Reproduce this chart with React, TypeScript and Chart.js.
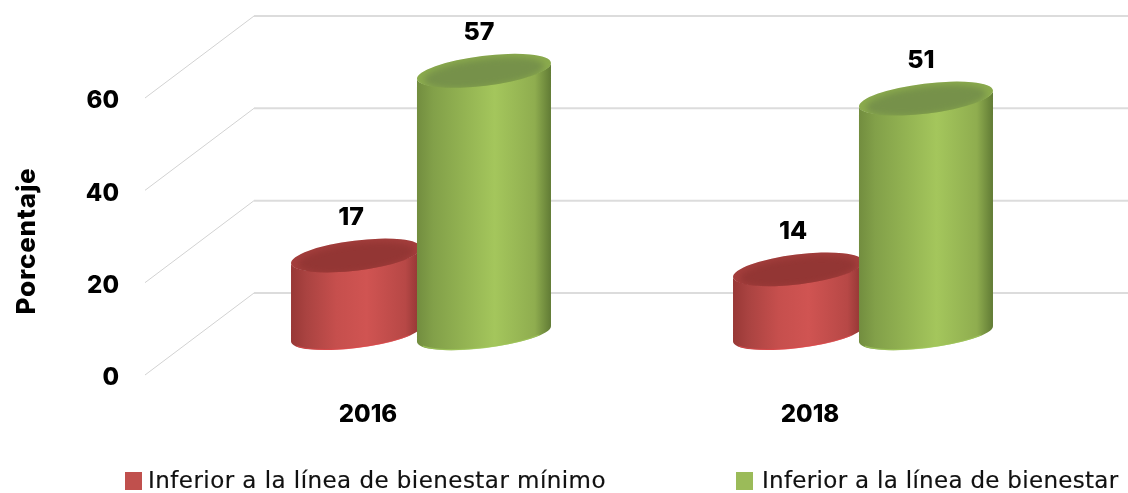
import React, { useEffect, useRef } from "react";
import { Chart, registerables } from "chart.js";

Chart.register(...registerables);

const categories = ["2016", "2018"];
const belowMinimum = [17, 14];
const belowWellbeing = [57, 51];
const seriesNames = ["Inferior a la línea de bienestar mínimo", "Inferior a la línea de bienestar"];
const axisTitle = "Porcentaje";

const FONT = 'Inter, "DejaVu Sans", sans-serif';
const LEGEND_FONT = '"DejaVu Sans", sans-serif';
const DEPTH_X = 107;
const DEPTH_Y = 82;
const SHIFT_X = 52;
const SHIFT_Y = 41;
const TILT = (-7 * Math.PI) / 180;
const MINOR = 14;

const looks = [
  {
    swatch: "#c0504d",
    extra: 1,
    stops: ["#983836", "#aa4341", "#c64f4d", "#d05452", "#b74846", "#8f3432"],
    rim: "#a43e3c",
    cap: "#933634",
    glow: "rgba(222,72,76,0.7)",
  },
  {
    swatch: "#9bbb59",
    extra: 3,
    stops: ["#728d3f", "#82a049", "#93b352", "#a4c65c", "#8fad4f", "#617b35"],
    rim: "#8bab4d",
    cap: "#76914a",
    glow: "rgba(160,200,90,0.7)",
  },
];

const scenePlugin = {
  id: "scene",
  afterLayout(chart: any) {
    // Inter sits high on a "middle" baseline: nudge the value labels onto their ticks.
    chart.scales.y.getLabelItems(chart.chartArea).forEach((item: any) => {
      item.options.translation[1] += 3;
    });
  },
  beforeDatasetsDraw(chart: any) {
    const { ctx, chartArea, scales } = chart;
    ctx.save();
    scales.y.ticks.forEach((t: any) => {
      const y = scales.y.getPixelForValue(t.value);
      ctx.strokeStyle = "#d2d2d2";
      ctx.lineWidth = 1;
      ctx.beginPath();
      ctx.moveTo(chartArea.left - 2, y);
      ctx.lineTo(chartArea.left + DEPTH_X, y - DEPTH_Y);
      ctx.stroke();
      ctx.strokeStyle = "#dcdcdc";
      ctx.lineWidth = 2;
      ctx.beginPath();
      ctx.moveTo(chartArea.left + DEPTH_X, y - DEPTH_Y);
      ctx.lineTo(chart.width, y - DEPTH_Y);
      ctx.stroke();
    });
    ctx.restore();

    ctx.save();
    ctx.translate(27, 241);
    ctx.rotate(-Math.PI / 2);
    ctx.fillStyle = "#000";
    ctx.font = `800 26px ${FONT}`;
    (ctx as any).letterSpacing = "0.8px";
    ctx.textAlign = "center";
    ctx.textBaseline = "middle";
    ctx.fillText(axisTitle, 0, 0);
    ctx.restore();
  },
  afterDatasetsDraw(chart: any) {
    const { ctx } = chart;
    chart.data.datasets.forEach((ds: any, d: number) => {
      const look = looks[d];
      chart.getDatasetMeta(d).data.forEach((el: any, i: number) => {
        const half = el.width / 2 + look.extra;
        const cx = el.x + SHIFT_X;
        const top = el.y - SHIFT_Y;
        const bottom = el.base - SHIFT_Y;
        const a = half / Math.cos(TILT);
        const t0 = Math.atan2(-MINOR * Math.sin(TILT), a * Math.cos(TILT));
        const grad = ctx.createLinearGradient(cx - half, 0, cx + half, 0);
        [0, 0.12, 0.35, 0.58, 0.88, 1].forEach((p, k) => grad.addColorStop(p, look.stops[k]));

        ctx.save();
        ctx.fillStyle = grad;
        ctx.beginPath();
        ctx.ellipse(cx, bottom, a, MINOR, TILT, t0, t0 + Math.PI, false);
        ctx.ellipse(cx, top, a, MINOR, TILT, t0 + Math.PI, t0, true);
        ctx.closePath();
        ctx.fill();

        ctx.strokeStyle = look.glow;
        ctx.lineWidth = 1.2;
        ctx.beginPath();
        ctx.ellipse(cx, bottom - 0.5, a - 0.5, MINOR, TILT, t0 + 0.6, t0 + Math.PI - 0.4, false);
        ctx.stroke();

        ctx.fillStyle = look.rim;
        ctx.beginPath();
        ctx.ellipse(cx, top, a, MINOR + 1, TILT, 0, Math.PI * 2);
        ctx.fill();
        ctx.save();
        ctx.beginPath();
        ctx.ellipse(cx, top, a, MINOR + 1, TILT, 0, Math.PI * 2);
        ctx.clip();
        ctx.filter = "blur(3px)";
        ctx.fillStyle = look.cap;
        ctx.beginPath();
        ctx.ellipse(cx, top + 2, a - 7, MINOR, TILT, 0, Math.PI * 2);
        ctx.fill();
        ctx.restore();
        ctx.restore();

        ctx.save();
        ctx.fillStyle = "#000";
        ctx.font = `800 25px ${FONT}`;
        ctx.textAlign = "center";
        ctx.textBaseline = "middle";
        ctx.fillText(String(ds.data[i]), cx - 5, top - 38);
        ctx.restore();
      });
    });
  },
};

export default function App() {
  const ref = useRef<HTMLCanvasElement>(null);

  useEffect(() => {
    const chart = new Chart(ref.current!, {
      type: "bar",
      data: {
        labels: categories,
        datasets: [
          { label: seriesNames[0], data: belowMinimum, backgroundColor: "rgba(0,0,0,0)" },
          { label: seriesNames[1], data: belowWellbeing, backgroundColor: "rgba(0,0,0,0)" },
        ],
      },
      options: {
        responsive: false,
        animation: false,
        events: [],
        layout: { padding: { left: 0, right: 97, top: 98, bottom: 0 } },
        datasets: { bar: { categoryPercentage: 0.579, barPercentage: 1 } },
        plugins: { legend: { display: false }, tooltip: { enabled: false } },
        scales: {
          x: {
            grid: { display: false },
            border: { display: false },
            ticks: { color: "#000", padding: 17, font: { family: FONT, size: 24, weight: "800" } },
            afterFit: (s: any) => {
              s.height = 118;
            },
          },
          y: {
            min: 0,
            max: 60,
            grid: { display: false },
            border: { display: false },
            ticks: {
              stepSize: 20,
              color: "#000",
              padding: 20,
              font: { family: FONT, size: 24, weight: "800" },
            },
            afterFit: (s: any) => {
              s.width = 147;
            },
          },
        },
      },
      plugins: [scenePlugin],
    } as any);
    return () => chart.destroy();
  }, []);

  const legendText: React.CSSProperties = {
    position: "absolute",
    top: 465,
    font: `23px/30px ${LEGEND_FONT}`,
    letterSpacing: "0.45px",
    color: "#111",
    whiteSpace: "nowrap",
    WebkitTextStroke: "0.2px #111",
  };
  const swatch: React.CSSProperties = { position: "absolute", top: 472, width: 17, height: 18 };

  return (
    <div style={{ position: "fixed", left: 0, top: 0, width: 1128, height: 493, background: "#fff", overflow: "hidden" }}>
      <canvas ref={ref} width={1128} height={493} style={{ display: "block" }} />
      <span style={{ ...swatch, left: 125, background: looks[0].swatch }} />
      <span style={{ ...legendText, left: 148 }}>{seriesNames[0]}</span>
      <span style={{ ...swatch, left: 736, background: looks[1].swatch }} />
      <span style={{ ...legendText, left: 762, letterSpacing: "0.3px" }}>{seriesNames[1]}</span>
    </div>
  );
}
